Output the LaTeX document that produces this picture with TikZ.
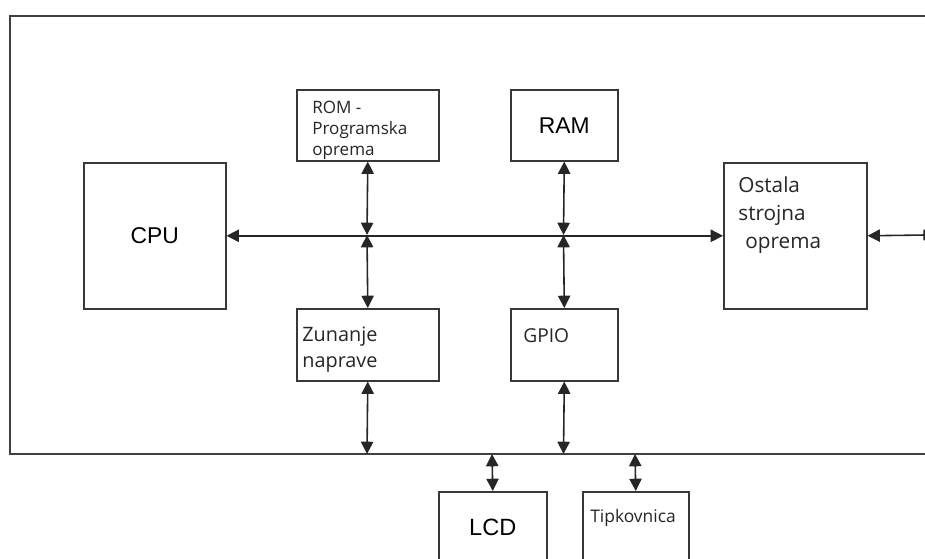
\documentclass[tikz,border=0pt]{standalone}
\usepackage{fontspec}
\setmainfont{Liberation Sans}
\newfontfamily\lblfont{Open Sans}
\usetikzlibrary{arrows.meta}

\tikzset{
  blok/.style={draw=black!78, line width=.9pt, fill=white, inner sep=0pt, anchor=north west},
  txt/.style={inner sep=0pt, anchor=base west, align=left, text=black!85},
  pov/.style={draw=black!85, line width=.9pt, {Triangle[length=7pt,width=7pt]}-{Triangle[length=7pt,width=7pt]}}
}

\begin{document}
\begin{tikzpicture}[x=.02cm, y=-.02cm]
\clip (0,0) rectangle (925,558);
% okvir
\draw[draw=black!75, line width=1pt] (10,16) rectangle (945,454);

% bloki
\node[blok, minimum width=2.84cm, minimum height=2.92cm, font=\fontsize{13}{15}\selectfont] (cpu) at (83,162) {CPU};
\node[blok, minimum width=2.84cm, minimum height=1.42cm] (rom) at (296,89) {};
\node[blok, minimum width=2.14cm, minimum height=1.42cm, font=\fontsize{13}{15}\selectfont] (ram) at (510,89) {RAM};
\node[blok, minimum width=2.86cm, minimum height=2.92cm] (ost) at (723,162) {};
\node[blok, minimum width=2.84cm, minimum height=1.44cm] (zun) at (296,308) {};
\node[blok, minimum width=2.14cm, minimum height=1.44cm] (gpio) at (510,308) {};
\node[blok, minimum width=2.16cm, minimum height=1.42cm, font=\fontsize{13.4}{15}\selectfont] (lcd) at (438,491) {LCD};
\node[blok, minimum width=2.12cm, minimum height=1.42cm] (tip) at (582,491) {};

% napisi (base = zadnja vrstica)
\node[txt, font=\lblfont\fontsize{9.7}{11.9}\selectfont] (romtxt) at (312,155) {ROM -\\Programska\\oprema};
\node[txt, font=\lblfont\fontsize{11.8}{15.8}\selectfont] (osttxt) at (738,248) {Ostala\\strojna\\\hspace*{4pt}oprema};
\node[txt, font=\lblfont\fontsize{11.3}{14.7}\selectfont] (zuntxt) at (302,367) {Zunanje\\naprave};
\node[txt, font=\lblfont\fontsize{10.9}{13}\selectfont] (gpiotxt) at (523,342) {GPIO};
\node[txt, font=\lblfont\fontsize{9.9}{12}\selectfont] (tiptxt) at (590,522) {Tipkovnica};

% vodila
\coordinate (j1) at (367,235);
\coordinate (j2) at (563.5,235);
\coordinate (b1) at (367,454);
\coordinate (b2) at (563.5,454);
\coordinate (b3) at (492,454);
\coordinate (b4) at (635,454);
\coordinate (desno) at (925,235);

\draw[pov] (cpu.east) -- (ost.west);
\draw[pov] (rom.south) -- (j1);
\draw[pov] (j1) -- (zun.north);
\draw[pov] (zun.south) -- (b1);
\draw[pov] (ram.south) -- (j2);
\draw[pov] (j2) -- (gpio.north);
\draw[pov] (gpio.south) -- (b2);
\draw[pov] (b3) -- (lcd.north);
\draw[pov] (b4) -- (tip.north);
\draw[pov, {Triangle[length=7pt,width=7pt]}-{Bar[width=6pt]}] (ost.east) -- (desno);
\end{tikzpicture}
\end{document}
